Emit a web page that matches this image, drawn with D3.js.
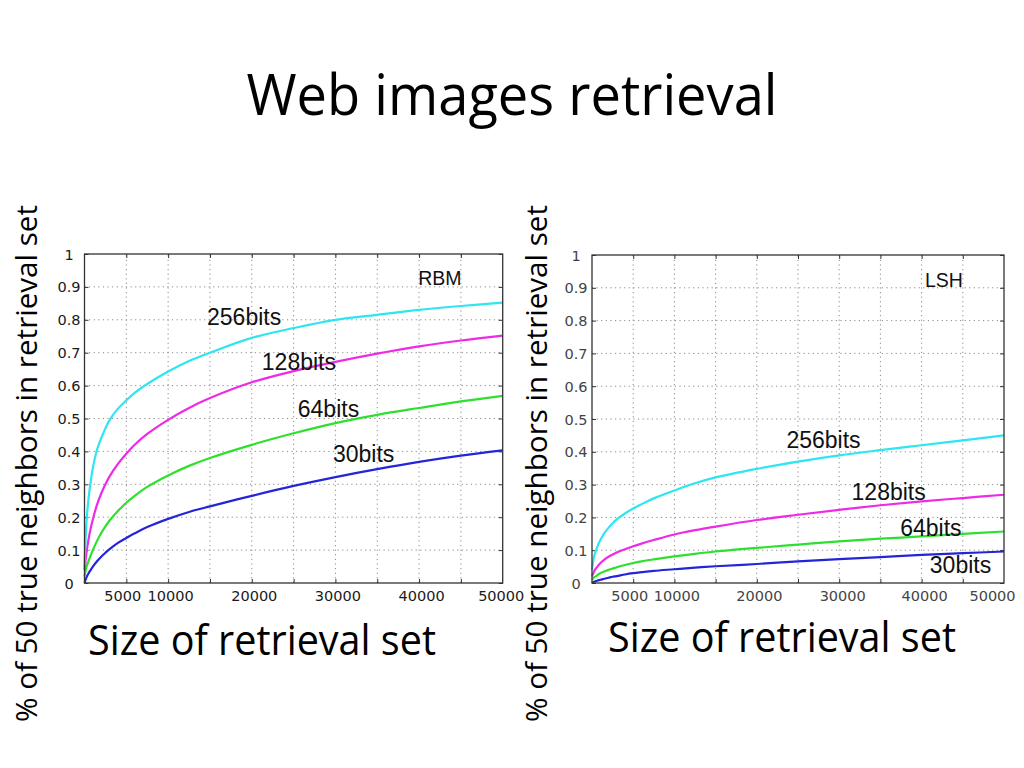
<!DOCTYPE html>
<html>
<head>
<meta charset="utf-8">
<script src="https://cdn.jsdelivr.net/npm/d3@7"></script>
<style>
  html, body { margin: 0; padding: 0; background: #fff; }
  svg { display: block; }
</style>
</head>
<body>
<svg id="chart" width="1024" height="768"></svg>
<script>
// ---------------- DATA ----------------
const titleText = "Web images retrieval";
const xLabelText = "Size of retrieval set";
const yLabelText = "% of 50 true neighbors in retrieval set";

const seriesNames = ["30bits", "64bits", "128bits", "256bits"];
const seriesColors = ["#2424d8", "#2ee02e", "#ee2ae6", "#2ee6f0"];

const sizes = [0, 250, 500, 750, 1000, 1500, 2000, 2500, 3000, 4000, 5000, 6000, 7500, 10000, 12500, 15000, 20000, 25000, 30000, 35000, 40000, 45000, 50000];

// RBM panel
const rbm30  = [0.0, 0.018, 0.03, 0.04, 0.05, 0.066, 0.08, 0.092, 0.103, 0.122, 0.137, 0.151, 0.17, 0.195, 0.216, 0.233, 0.265, 0.295, 0.322, 0.346, 0.368, 0.387, 0.403];
const rbm64  = [0.02, 0.05, 0.068, 0.085, 0.1, 0.128, 0.152, 0.172, 0.19, 0.219, 0.244, 0.265, 0.292, 0.327, 0.356, 0.38, 0.42, 0.455, 0.486, 0.511, 0.532, 0.552, 0.569];
const rbm128 = [0.04, 0.095, 0.135, 0.167, 0.194, 0.238, 0.272, 0.30, 0.324, 0.362, 0.393, 0.42, 0.453, 0.496, 0.532, 0.562, 0.61, 0.644, 0.672, 0.697, 0.719, 0.737, 0.752];
const rbm256 = [0.05, 0.19, 0.26, 0.31, 0.35, 0.405, 0.44, 0.47, 0.495, 0.53, 0.555, 0.578, 0.605, 0.643, 0.675, 0.70, 0.745, 0.775, 0.80, 0.815, 0.83, 0.842, 0.852];

// LSH panel
const lsh30  = [0.0, 0.004, 0.006, 0.008, 0.01, 0.013, 0.016, 0.019, 0.021, 0.026, 0.03, 0.033, 0.037, 0.042, 0.047, 0.051, 0.058, 0.066, 0.073, 0.079, 0.086, 0.091, 0.096];
const lsh64  = [0.01, 0.017, 0.021, 0.026, 0.03, 0.035, 0.04, 0.044, 0.048, 0.055, 0.061, 0.066, 0.072, 0.081, 0.089, 0.096, 0.107, 0.117, 0.127, 0.135, 0.142, 0.15, 0.157];
const lsh128 = [0.02, 0.035, 0.045, 0.053, 0.06, 0.071, 0.08, 0.087, 0.093, 0.103, 0.112, 0.12, 0.131, 0.148, 0.161, 0.172, 0.192, 0.208, 0.223, 0.237, 0.249, 0.259, 0.269];
const lsh256 = [0.04, 0.08, 0.10, 0.117, 0.13, 0.152, 0.168, 0.182, 0.194, 0.212, 0.227, 0.24, 0.258, 0.282, 0.304, 0.322, 0.348, 0.37, 0.389, 0.405, 0.42, 0.435, 0.45];

const xTickLabels = [5000, 10000, 20000, 30000, 40000, 50000];
const xGridTicks = [5000, 10000, 15000, 20000, 25000, 30000, 35000, 40000, 45000];
const yTicks = [0, 0.1, 0.2, 0.3, 0.4, 0.5, 0.6, 0.7, 0.8, 0.9, 1];

// label anchor positions in data units [x, y]
const rbmLabelPos = [[29700, 0.368], [25500, 0.505], [21200, 0.647], [14650, 0.784]];
const lshLabelPos = [[41000, 0.03], [37400, 0.143], [31500, 0.253], [23600, 0.411]];
const rbmTitlePos = [39900, 0.906];
const lshTitlePos = [40400, 0.903];

// ---------------- DRAW ----------------
const svg = d3.select("#chart");
const calibri = "'Open Sans', 'Noto Sans', sans-serif";

svg.append("text")
  .attr("x", 512).attr("y", 115)
  .attr("text-anchor", "middle")
  .attr("font-family", calibri)
  .attr("font-size", 56)
  .attr("textLength", 531)
  .attr("lengthAdjust", "spacingAndGlyphs")
  .attr("fill", "#000")
  .text(titleText);

function panel(cfg) {
  const x = d3.scaleLinear().domain([0, 50000]).range([cfg.left, cfg.right]);
  const y = d3.scaleLinear().domain([0, 1]).range([cfg.bottom, cfg.top]);
  const g = svg.append("g");

  // grid
  g.append("g").selectAll("line").data(xGridTicks).join("line")
    .attr("x1", d => x(d)).attr("x2", d => x(d))
    .attr("y1", y(0)).attr("y2", y(1))
    .attr("stroke", "#8a8a8a").attr("stroke-width", 1)
    .attr("stroke-dasharray", "1.2,3.4");
  g.append("g").selectAll("line").data(yTicks.slice(1, -1)).join("line")
    .attr("y1", d => y(d)).attr("y2", d => y(d))
    .attr("x1", x(0)).attr("x2", x(50000))
    .attr("stroke", "#8a8a8a").attr("stroke-width", 1)
    .attr("stroke-dasharray", "1.2,3.4");

  // inward tick marks on four sides
  const mk = (sel) => { sel.select(".domain").remove(); sel.selectAll("line").attr("stroke", "#333"); };
  g.append("g").attr("transform", `translate(0,${y(0)})`)
    .call(d3.axisBottom(x).tickValues(xGridTicks).tickSize(-4).tickFormat("")).call(mk);
  g.append("g").attr("transform", `translate(0,${y(1)})`)
    .call(d3.axisTop(x).tickValues(xGridTicks).tickSize(-4).tickFormat("")).call(mk);
  g.append("g").attr("transform", `translate(${x(0)},0)`)
    .call(d3.axisLeft(y).tickValues(yTicks).tickSize(-4).tickFormat("")).call(mk);
  g.append("g").attr("transform", `translate(${x(50000)},0)`)
    .call(d3.axisRight(y).tickValues(yTicks).tickSize(-4).tickFormat("")).call(mk);

  // tick labels
  const xa = g.append("g").attr("transform", `translate(0,${y(0)})`)
    .call(d3.axisBottom(x).tickValues(xTickLabels).tickSize(0).tickPadding(8).tickFormat(d3.format("d")));
  xa.select(".domain").remove();
  xa.selectAll("text")
    .attr("font-family", "'DejaVu Sans', sans-serif").attr("font-size", 14.5)
    .attr("fill", cfg.tickColor)
    .attr("dx", (d, i) => cfg.xLabShift[i]);
  const ya = g.append("g").attr("transform", `translate(${x(0)},0)`)
    .call(d3.axisLeft(y).tickValues(yTicks).tickSize(0).tickFormat(d => d === 0 ? "0" : (d === 1 ? "1" : d3.format(".1f")(d))));
  ya.select(".domain").remove();
  ya.selectAll("text")
    .attr("font-family", "'DejaVu Sans', sans-serif").attr("font-size", 14.5)
    .attr("fill", cfg.tickColor)
    .attr("text-anchor", "middle")
    .attr("x", -cfg.yLabOffset)
    .attr("dy", "0.35em");

  // series
  const line = d3.line().x(d => x(d[0])).y(d => y(d[1])).curve(d3.curveCatmullRom.alpha(0.5));
  cfg.series.forEach((vals, i) => {
    g.append("path")
      .datum(sizes.map((s, k) => [s, vals[k]]))
      .attr("fill", "none")
      .attr("stroke", seriesColors[i])
      .attr("stroke-width", 2.2)
      .attr("stroke-linejoin", "round")
      .attr("d", line);
  });

  // box
  g.append("rect")
    .attr("x", x(0)).attr("y", y(1))
    .attr("width", x(50000) - x(0)).attr("height", y(0) - y(1))
    .attr("fill", "none").attr("stroke", "#333").attr("stroke-width", 1.3);

  // series labels
  cfg.labelPos.forEach((p, i) => {
    g.append("text")
      .attr("x", x(p[0])).attr("y", y(p[1]))
      .attr("font-family", "'Liberation Sans', Arial, sans-serif")
      .attr("font-size", 23)
      .attr("fill", "#111")
      .text(seriesNames[i]);
  });
  g.append("text")
    .attr("x", x(cfg.namePos[0])).attr("y", y(cfg.namePos[1]))
    .attr("font-family", "'Liberation Sans', Arial, sans-serif")
    .attr("font-size", 19.5)
    .attr("fill", "#111")
    .text(cfg.name);

  // axis titles
  svg.append("text")
    .attr("x", cfg.xTitleX).attr("y", cfg.xTitleY)
    .attr("text-anchor", "middle")
    .attr("font-family", calibri).attr("font-size", 42)
    .attr("textLength", 348).attr("lengthAdjust", "spacingAndGlyphs")
    .attr("fill", "#000")
    .text(xLabelText);
  svg.append("text")
    .attr("transform", `translate(${cfg.yTitleX},463.5) rotate(-90)`)
    .attr("text-anchor", "middle")
    .attr("font-family", calibri).attr("font-size", 29.5)
    .attr("textLength", 517).attr("lengthAdjust", "spacingAndGlyphs")
    .attr("fill", "#000")
    .text(yLabelText);
}

panel({
  left: 84.5, right: 502.7, top: 254, bottom: 583,
  series: [rbm30, rbm64, rbm128, rbm256],
  labelPos: rbmLabelPos, name: "RBM", namePos: rbmTitlePos,
  tickColor: "#1a1a1a", yLabOffset: 15.5,
  xLabShift: [-4, 2, 2, 2, 2, -2],
  xTitleX: 262, xTitleY: 655, yTitleX: 37
});
panel({
  left: 592, right: 1004, top: 255, bottom: 583,
  series: [lsh30, lsh64, lsh128, lsh256],
  labelPos: lshLabelPos, name: "LSH", namePos: lshTitlePos,
  tickColor: "#444", yLabOffset: 16,
  xLabShift: [-4, 2, 2, 3, 2.5, -12],
  xTitleX: 782, xTitleY: 652, yTitleX: 547
});
</script>
</body>
</html>
